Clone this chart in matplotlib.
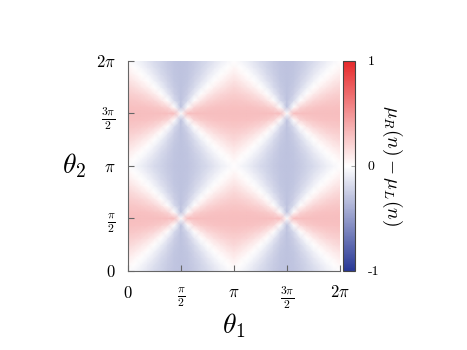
import numpy as np
import matplotlib
matplotlib.use("Agg")
import matplotlib.pyplot as plt
from matplotlib.colors import LinearSegmentedColormap

plt.rcParams['mathtext.fontset'] = 'cm'
plt.rcParams['font.family'] = ['cmr10', 'DejaVu Serif']
plt.rcParams['axes.unicode_minus'] = False

# values, one quarter cell (theta1, theta2 in [0, pi/2]), step pi/16
# rows: theta2, columns: theta1
quarter = np.array([
    [0.000, -0.040, -0.084, -0.131, -0.180, -0.226, -0.265, -0.291, -0.300],
    [0.040,  0.000, -0.046, -0.097, -0.152, -0.207, -0.255, -0.288, -0.300],
    [0.084,  0.046,  0.000, -0.054, -0.115, -0.180, -0.240, -0.284, -0.300],
    [0.131,  0.097,  0.054,  0.000, -0.066, -0.141, -0.217, -0.277, -0.300],
    [0.180,  0.152,  0.115,  0.066,  0.000, -0.084, -0.180, -0.265, -0.300],
    [0.226,  0.207,  0.180,  0.141,  0.084,  0.000, -0.115, -0.240, -0.300],
    [0.265,  0.255,  0.240,  0.217,  0.180,  0.115,  0.000, -0.180, -0.300],
    [0.291,  0.288,  0.284,  0.277,  0.265,  0.240,  0.180,  0.000, -0.300],
    [0.300,  0.300,  0.300,  0.300,  0.300,  0.300,  0.300,  0.300,  0.000],
])

tick_labels = [r'$0$', r'$\frac{\pi}{2}$', r'$\pi$', r'$\frac{3\pi}{2}$', r'$2\pi$']
cbar_ticks = [-1, 0, 1]
cbar_labels = ['-1', '0', '1']

# mirror the quarter to fill 0..2pi in both directions
half = np.hstack([quarter, quarter[:, ::-1][:, 1:]])
full = np.hstack([half, half[:, 1:]])
half = np.vstack([full, full[::-1, :][1:, :]])
grid = np.vstack([half, half[1:, :]])

n = grid.shape[0]
t = np.linspace(0, 2 * np.pi, n)

cmap = LinearSegmentedColormap.from_list('rwb', ['#283896', '#ffffff', '#e6282a'])

fig = plt.figure(figsize=(4.67, 3.5), dpi=100)
ax = fig.add_axes([0.274, 0.226, 0.454, 0.600])
cax = fig.add_axes([0.734, 0.226, 0.026, 0.600])

mesh = ax.pcolormesh(t, t, grid, cmap=cmap, vmin=-1, vmax=1, shading='gouraud')
ax.set_xlim(0, 2 * np.pi)
ax.set_ylim(0, 2 * np.pi)

ticks = [0, np.pi / 2, np.pi, 3 * np.pi / 2, 2 * np.pi]
ax.set_xticks(ticks)
ax.set_xticklabels(tick_labels, fontsize=12)
ax.set_yticks(ticks)
ax.set_yticklabels(tick_labels, fontsize=12)
ax.tick_params(axis='x', direction='in', length=4, color='#666666', pad=10)
ax.tick_params(axis='y', direction='in', length=4, color='#666666', pad=9)

for side in ['top', 'right']:
    ax.spines[side].set_visible(False)
for side in ['left', 'bottom']:
    ax.spines[side].set_color('#666666')

ax.set_xlabel(r'$\theta_1$', fontsize=20, labelpad=0)
ax.set_ylabel(r'$\theta_2$', fontsize=20, rotation=0, labelpad=16, va='center')

cbar = fig.colorbar(mesh, cax=cax)
cbar.set_ticks(cbar_ticks)
cbar.set_ticklabels(cbar_labels)
cbar.ax.tick_params(direction='in', length=3, color='#aaaaaa', labelsize=10, pad=9)
cbar.outline.set_edgecolor('#444444')
cbar.outline.set_linewidth(0.8)
cbar.set_label(r'$\mu_R(n) - \mu_L(n)$', fontsize=14, rotation=270, labelpad=18)

fig.savefig('out.png', dpi=100)
